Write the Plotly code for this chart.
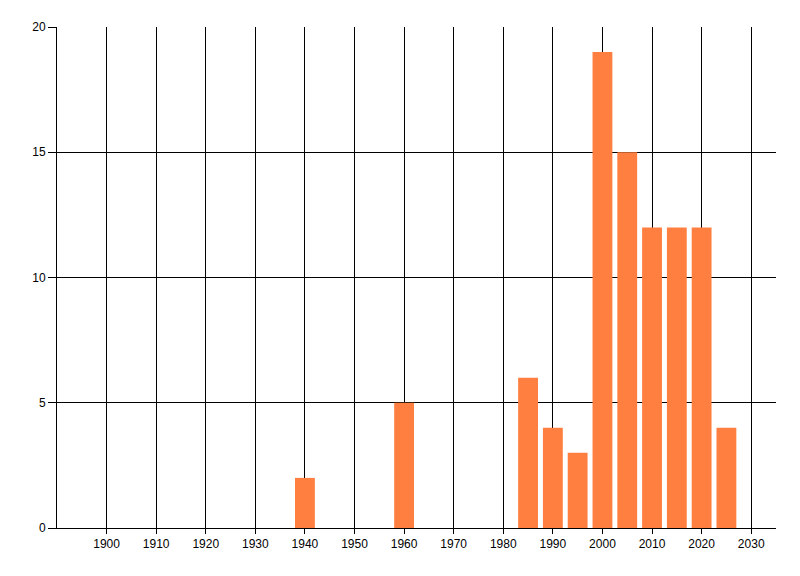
import plotly.graph_objects as go

# bar data
years = [1940, 1960, 1985, 1990, 1995, 2000, 2005, 2010, 2015, 2020, 2025]
counts = [2, 5, 6, 4, 3, 19, 15, 12, 12, 12, 4]

x_ticks = list(range(1900, 2031, 10))
y_ticks = [0, 5, 10, 15, 20]

fig = go.Figure()
fig.add_trace(go.Bar(
    x=years,
    y=counts,
    width=4,
    marker=dict(color='#FF7F40', line=dict(width=0)),
))

# page body has an 8px margin, so the plot box is shifted up/left by 8
fig.update_layout(
    width=800,
    height=576,
    margin=dict(l=49, r=32, t=19, b=56),
    plot_bgcolor='white',
    paper_bgcolor='white',
    showlegend=False,
    font=dict(family='Liberation Sans', size=12, color='black'),
)

fig.update_xaxes(
    range=[1890, 2035],
    tickvals=x_ticks,
    ticktext=[str(t) for t in x_ticks],
    showgrid=True, gridcolor='black', gridwidth=1,
    showline=True, linecolor='black', linewidth=1,
    ticks='outside', ticklen=5, tickcolor='black',
    zeroline=False,
)
fig.update_yaxes(
    range=[0, 20],
    tickvals=y_ticks,
    showgrid=True, gridcolor='black', gridwidth=1,
    showline=True, linecolor='black', linewidth=1,
    ticks='outside', ticklen=8, tickcolor='black',
    zeroline=False,
)

fig.write_html("out.html")
